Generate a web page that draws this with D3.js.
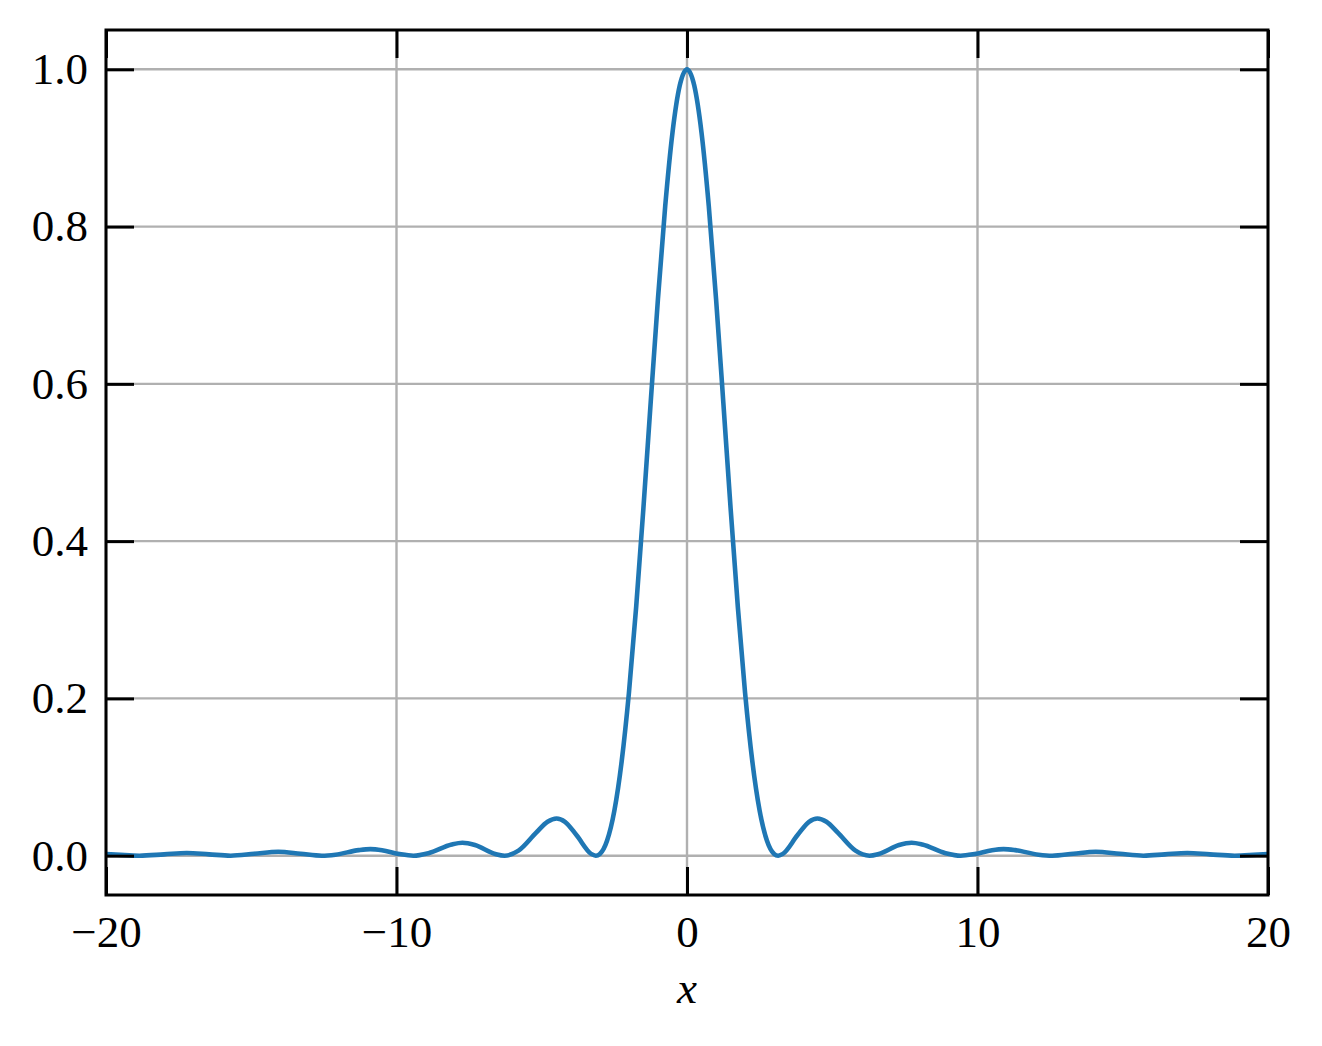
<!DOCTYPE html>
<html>
<head>
<meta charset="utf-8">
<script src="https://cdn.jsdelivr.net/npm/d3@7"></script>
<style>
  body { margin: 0; background: #fff; }
  text { font-family: "Liberation Serif", "DejaVu Serif", serif; }
</style>
</head>
<body>
<div id="chart"></div>
<script>
// values (x, intensity)
const xs = [
  -20, -19.5, -18.85, -18, -17.22, -16.45, -15.71, -14.9, -14.07, -13.3, -12.57,
  -12.1, -11.3, -10.9, -10.5, -9.9, -9.42, -8.9, -8.1, -7.73, -7.3, -6.6, -6.28,
  -5.8, -5.2, -4.8, -4.49, -4.2, -3.8, -3.3, -3.14, -3, -2.75, -2.5, -2.25, -2,
  -1.75, -1.5, -1.25, -1, -0.75, -0.5, -0.25, 0, 0.25, 0.5, 0.75, 1, 1.25, 1.5,
  1.75, 2, 2.25, 2.5, 2.75, 3, 3.14, 3.3, 3.8, 4.2, 4.49, 4.8, 5.2, 5.8,
  6.28, 6.6, 7.3, 7.73, 8.1, 8.9, 9.42, 9.9, 10.5, 10.9, 11.3, 12.1, 12.57,
  13.3, 14.07, 14.9, 15.71, 16.45, 17.22, 18, 18.85, 19.5, 20
];
const ys = [
  0.0021, 0.001, 0, 0.0017, 0.0034, 0.0017, 0, 0.0024, 0.005, 0.0025, 0,
  0.0013, 0.0071, 0.0084, 0.007, 0.0021, 0, 0.0032, 0.0143, 0.0165, 0.0136, 0.0022, 0,
  0.0064, 0.0289, 0.0431, 0.0472, 0.0431, 0.0259, 0.0023, 0, 0.0022, 0.0193, 0.0573, 0.1196, 0.2067,
  0.3162, 0.4422, 0.5764, 0.7081, 0.826, 0.9194, 0.9793, 1, 0.9793, 0.9194, 0.826, 0.7081, 0.5764, 0.4422,
  0.3162, 0.2067, 0.1196, 0.0573, 0.0193, 0.0022, 0, 0.0023, 0.0259, 0.0431, 0.0472, 0.0431, 0.0289, 0.0064,
  0, 0.0022, 0.0136, 0.0165, 0.0143, 0.0032, 0, 0.0021, 0.007, 0.0084, 0.0071, 0.0013, 0,
  0.0025, 0.005, 0.0024, 0, 0.0017, 0.0034, 0.0017, 0, 0.001, 0.0021
];
const xTicks = [-20, -10, 0, 10, 20];
const yTicks = [0, 0.2, 0.4, 0.6, 0.8, 1.0];

const W = 1322, H = 1046;
const margin = { top: 30, right: 54, bottom: 151, left: 106 },
      width = W - margin.left - margin.right,
      height = H - margin.top - margin.bottom;

const svg = d3.select("#chart").append("svg")
  .attr("width", W).attr("height", H)
  .append("g")
  .attr("transform", `translate(${margin.left},${margin.top})`);

const x = d3.scaleLinear().domain([-20, 20]).range([0, width]);
const y = d3.scaleLinear().domain([-0.05, 1.05]).range([height, 0]);

const fmtX = d => (d < 0 ? "\u2212" : "") + Math.abs(d);
const fmtY = d3.format(".1f");

// grid
svg.append("g").selectAll("line").data(xTicks).join("line")
  .attr("x1", d => x(d)).attr("x2", d => x(d))
  .attr("y1", 0).attr("y2", height)
  .attr("stroke", "#b0b0b0").attr("stroke-width", 2.4);
svg.append("g").selectAll("line").data(yTicks).join("line")
  .attr("x1", 0).attr("x2", width)
  .attr("y1", d => y(d)).attr("y2", d => y(d))
  .attr("stroke", "#b0b0b0").attr("stroke-width", 2.4);

// curve
const data = xs.map((v, i) => ({ x: v, y: ys[i] }));
svg.append("path")
  .datum(data)
  .attr("fill", "none")
  .attr("stroke", "#1f77b4")
  .attr("stroke-width", 4.6)
  .attr("stroke-linejoin", "round")
  .attr("d", d3.line().x(d => x(d.x)).y(d => y(d.y)).curve(d3.curveMonotoneX));

// axes, ticks pointing inwards
const tickLen = 28;
function styleAxis(g) {
  g.select(".domain").remove();
  g.selectAll(".tick line").attr("stroke", "#000").attr("stroke-width", 3);
  g.selectAll(".tick text").attr("fill", "#000").style("font-size", "45px");
}
svg.append("g").attr("transform", `translate(0,${height})`)
  .call(d3.axisBottom(x).tickValues(xTicks).tickFormat(fmtX).tickSizeInner(-tickLen).tickPadding(20))
  .call(styleAxis);
svg.append("g")
  .call(d3.axisTop(x).tickValues(xTicks).tickFormat("").tickSizeInner(-tickLen))
  .call(styleAxis);
svg.append("g")
  .call(d3.axisLeft(y).tickValues(yTicks).tickFormat(fmtY).tickSizeInner(-tickLen).tickPadding(18))
  .call(styleAxis);
svg.append("g").attr("transform", `translate(${width},0)`)
  .call(d3.axisRight(y).tickValues(yTicks).tickFormat("").tickSizeInner(-tickLen))
  .call(styleAxis);

// frame
svg.append("rect")
  .attr("width", width).attr("height", height)
  .attr("fill", "none").attr("stroke", "#000").attr("stroke-width", 3);

// x label
svg.append("text")
  .attr("x", width / 2).attr("y", height + 108)
  .attr("text-anchor", "middle")
  .style("font-size", "45px").style("font-style", "italic")
  .text("x");
</script>
</body>
</html>
